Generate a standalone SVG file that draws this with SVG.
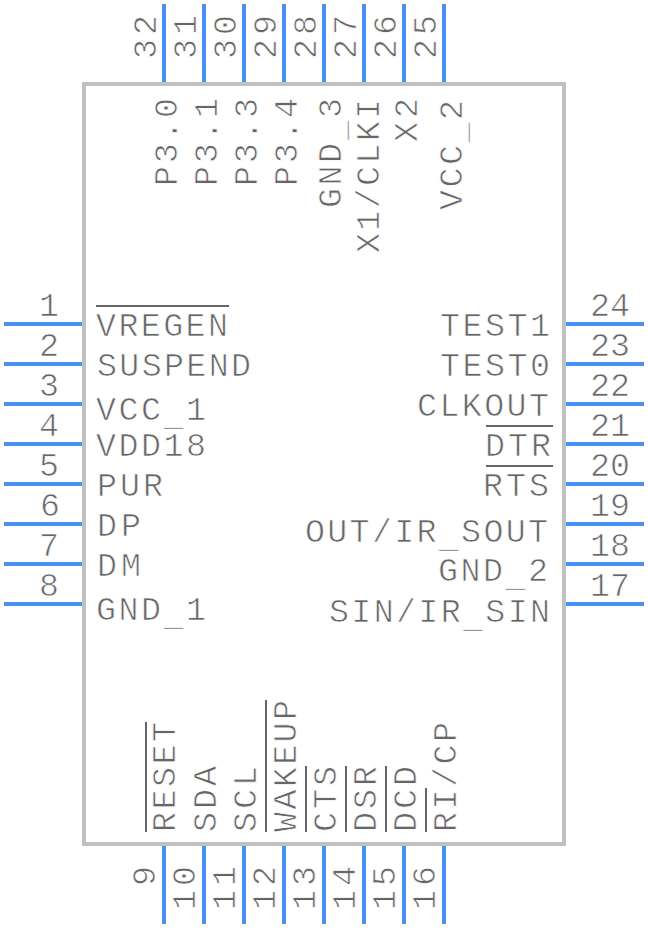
<svg xmlns="http://www.w3.org/2000/svg" width="648" height="928" viewBox="0 0 648 928">
<style>
.pin{stroke:#4a8ff5;stroke-width:4;fill:none}
.o{stroke:#666;stroke-width:2;fill:none}
text{font-family:"Liberation Mono",monospace;fill:#666;font-size:33.3px;stroke:#fff;stroke-width:.7px}
.n{text-anchor:middle}
</style>
<rect width="648" height="928" fill="#fff"/>
<g id="body"><rect x="84" y="84" width="480" height="760" fill="none" stroke="#c0c0c0" stroke-width="4"/></g>
<g id="connectors">
<path class="pin" d="M4 324H82M4 364H82M4 404H82M4 444H82M4 484H82M4 524H82M4 564H82M4 604H82"/>
<path class="pin" d="M566 324H644M566 364H644M566 404H644M566 444H644M566 484H644M566 524H644M566 564H644M566 604H644"/>
<path class="pin" d="M164 4V82M204 4V82M244 4V82M284 4V82M324 4V82M364 4V82M404 4V82M444 4V82"/>
<path class="pin" d="M164 846V924M204 846V924M244 846V924M284 846V924M324 846V924M364 846V924M404 846V924M444 846V924"/>
</g>
<g id="pins-left">
<text class="n" x="49" y="316">1</text><text class="n" x="49" y="356">2</text><text class="n" x="49" y="396">3</text><text class="n" x="49" y="436">4</text><text class="n" x="49" y="476">5</text><text class="n" x="50" y="516">6</text><text class="n" x="49" y="556">7</text><text class="n" x="49" y="596">8</text>
<text x="96" y="336" textLength="132">VREGEN</text>
<text x="97" y="376" textLength="154">SUSPEND</text>
<text x="96" y="420" textLength="110">VCC<tspan dy="5">_</tspan><tspan dy="-5">1</tspan></text>
<text x="96" y="456" textLength="110">VDD18</text>
<text x="97" y="496" textLength="66">PUR</text>
<text x="97" y="536" textLength="44">DP</text>
<text x="97" y="576" textLength="44">DM</text>
<text x="96" y="620" textLength="110">GND<tspan dy="5">_</tspan><tspan dy="-5">1</tspan></text>
<path class="o" d="M96 306H229"/>
</g>
<g id="pins-right">
<text class="n" x="610" y="316">24</text><text class="n" x="610" y="356">23</text><text class="n" x="610" y="396">22</text><text class="n" x="610" y="436">21</text><text class="n" x="610" y="476">20</text><text class="n" x="610" y="516">19</text><text class="n" x="610" y="556">18</text><text class="n" x="610" y="596">17</text>
<text x="440" y="336" textLength="110">TEST1</text>
<text x="440" y="376" textLength="110">TEST0</text>
<text x="417" y="416" textLength="132">CLKOUT</text>
<text x="485" y="456" textLength="66">DTR</text>
<text x="483" y="496" textLength="66">RTS</text>
<text x="305" y="542" textLength="243">OUT/IR<tspan dy="5">_</tspan><tspan dy="-5">SOUT</tspan></text>
<text x="438" y="581" textLength="110">GND<tspan dy="5">_</tspan><tspan dy="-5">2</tspan></text>
<text x="329" y="622" textLength="221">SIN/IR<tspan dy="5">_</tspan><tspan dy="-5">SIN</tspan></text>
<path class="o" d="M486 426H553M486 466H553"/>
</g>
<g id="pins-top">
<text transform="translate(156 59) rotate(-90)" textLength="44">32</text>
<text transform="translate(196 59) rotate(-90)" textLength="44">31</text>
<text transform="translate(236 59) rotate(-90)" textLength="44">30</text>
<text transform="translate(276 59) rotate(-90)" textLength="44">29</text>
<text transform="translate(316 59) rotate(-90)" textLength="44">28</text>
<text transform="translate(356 59) rotate(-90)" textLength="44">27</text>
<text transform="translate(396 59) rotate(-90)" textLength="44">26</text>
<text transform="translate(436 59) rotate(-90)" textLength="44">25</text>
<text transform="translate(177 186) rotate(-90)" textLength="88">P3.0</text>
<text transform="translate(217 186) rotate(-90)" textLength="88">P3.1</text>
<text transform="translate(257 186) rotate(-90)" textLength="88">P3.3</text>
<text transform="translate(297 186) rotate(-90)" textLength="88">P3.4</text>
<text transform="translate(341 208) rotate(-90)" textLength="110">GND<tspan dy="4">_</tspan><tspan dy="-4">3</tspan></text>
<text transform="translate(379 253) rotate(-90)" textLength="154">X1/CLKI</text>
<text transform="translate(417 142) rotate(-90)" textLength="44">X2</text>
<text transform="translate(462 210) rotate(-90)" textLength="110">VCC<tspan dy="4">_</tspan><tspan dy="-4">2</tspan></text>
</g>
<g id="pins-bottom">
<text transform="translate(155 886) rotate(-90)">9</text>
<text transform="translate(195 910) rotate(-90)" textLength="44">10</text>
<text transform="translate(235 910) rotate(-90)" textLength="44">11</text>
<text transform="translate(275 910) rotate(-90)" textLength="44">12</text>
<text transform="translate(315 910) rotate(-90)" textLength="44">13</text>
<text transform="translate(355 910) rotate(-90)" textLength="44">14</text>
<text transform="translate(395 910) rotate(-90)" textLength="44">15</text>
<text transform="translate(435 910) rotate(-90)" textLength="44">16</text>
<text transform="translate(175 832) rotate(-90)" textLength="110">RESET</text>
<text transform="translate(216 832) rotate(-90)" textLength="66">SDA</text>
<text transform="translate(256 832) rotate(-90)" textLength="66">SCL</text>
<text transform="translate(296 832) rotate(-90)" textLength="132">WAKEUP</text>
<text transform="translate(336 832) rotate(-90)" textLength="66">CTS</text>
<text transform="translate(376 832) rotate(-90)" textLength="66">DSR</text>
<text transform="translate(416 832) rotate(-90)" textLength="66">DCD</text>
<text transform="translate(456 832) rotate(-90)" textLength="110">RI/CP</text>
<path class="o" d="M146 722V832M266 700V832M306 766V832M346 766V832M386 766V832M426 788V832"/>
</g>
</svg>
